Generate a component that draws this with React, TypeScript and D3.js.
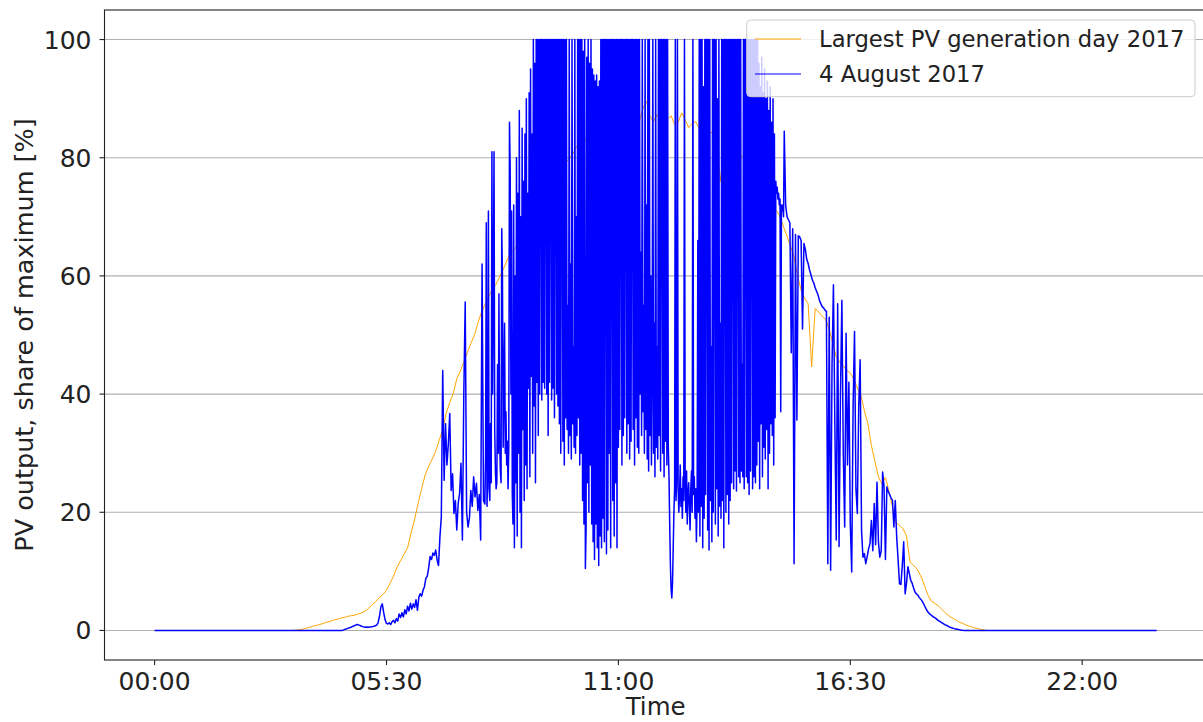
import React from "react";
import * as d3 from "d3";

// ---- data (minutes after midnight, values in % of maximum) ----
const DAY_END = 1426;
const xTickMinutes = [0, 330, 660, 990, 1320];
const xTickLabels = ["00:00", "05:30", "11:00", "16:30", "22:00"];
const yTicks = [0, 20, 40, 60, 80, 100];
const seriesNames = ["Largest PV generation day 2017", "4 August 2017"];

// Largest PV generation day: from minute 195, every 5 minutes
const ORANGE_START = 195;
const ORANGE_STEP = 5;
const orangeValues = [
  0, 0.05, 0.1, 0.2, 0.35, 0.5, 0.7, 0.85, 1.0, 1.2,
  1.4, 1.55, 1.75, 1.9, 2.1, 2.2, 2.4, 2.5, 2.6, 2.8,
  3.0, 3.3, 3.8, 4.4, 4.9, 5.6, 6.1, 6.8, 8.0, 9.2,
  10.7, 11.8, 12.9, 14.0, 16.5, 18.8, 21.5, 24.0, 26.3, 27.8,
  29.0, 30.3, 32.2, 34.0, 36.8, 38.6, 40.1, 42.6, 43.9, 45.4,
  47.0, 48.6, 49.9, 52.0, 53.8, 55.1, 56.3, 57.6, 58.4, 59.6,
  60.8, 62.2, 63.6, 64.2, 65.0, 65.9, 66.8, 67.9, 68.8, 69.6,
  70.2, 71.0, 72.0, 72.9, 73.8, 74.6, 76.5, 78.4, 79.2, 79.8,
  80.6, 81.8, 82.6, 82.1, 83.4, 83.0, 84.0, 84.5, 83.7, 85.0,
  86.5, 87.4, 84.6, 85.6, 86.0, 85.4, 84.7, 86.3, 87.5, 86.2,
  88.4, 89.6, 87.0, 86.1, 87.3, 86.4, 88.2, 86.5, 87.1, 85.6,
  86.0, 87.6, 86.4, 85.1, 85.8, 86.1, 84.9, 85.5, 85.0, 84.3,
  84.2, 82.9, 76.0, 81.6, 81.9, 81.0, 80.7, 80.9, 80.3, 79.6,
  78.8, 78.0, 77.3, 75.4, 74.3, 73.2, 72.4, 71.7, 71.0, 70.1,
  68.3, 66.7, 65.0, 63.2, 60.0, 57.6, 56.2, 55.3, 44.6, 54.5,
  53.9, 53.2, 52.6, 51.0, 48.6, 46.3, 45.4, 44.8, 44.0, 43.6,
  42.5, 41.0, 39.8, 37.2, 35.0, 31.3, 28.6, 26.0, 24.8, 25.9,
  23.6, 20.9, 18.2, 17.8, 17.2, 16.0, 11.6, 11.0, 10.4, 9.3,
  7.8, 6.1, 5.0, 4.6, 4.2, 3.6, 3.0, 2.5, 2.1, 1.8,
  1.4, 1.2, 0.9, 0.7, 0.5, 0.35, 0.2, 0.1, 0,
];

// 4 August 2017, morning: from minute 264, every 2 minutes
const MORNING_START = 264;
const MORNING_STEP = 2;
const blueMorning = [
  0, 0, 0.05, 0.15, 0.25, 0.3, 0.4, 0.5, 0.55, 0.7,
  0.8, 0.9, 1.0, 0.95, 0.85, 0.75, 0.65, 0.6, 0.55, 0.6,
  0.55, 0.6, 0.6, 0.65, 0.7, 0.8, 0.9, 1.3, 2.4, 4.0,
  4.5, 3.0, 1.8, 1.2, 1.1, 1.3, 1.0, 1.5, 1.7, 1.3,
  2.0, 1.6, 2.8, 2.2, 3.0, 2.3, 3.5, 2.8, 4.1, 3.3,
  4.6, 3.6, 4.5, 3.9, 5.2, 3.4, 5.6, 6.2, 5.8, 6.8,
  7.4, 8.8, 9.2, 10.6, 12.5, 12.0, 13.1, 12.7, 13.6, 11.9,
  11.0, 15.8, 19.2, 44.0, 25.4, 35.0, 28.0, 31.6, 36.7, 23.7,
  26.5, 19.8, 22.0, 17.0, 21.5, 23.2, 28.3, 15.3, 40.1, 55.6,
  20.0, 17.5, 19.0, 23.7, 21.0, 26.0, 22.6, 24.9, 20.3, 23.0,
  15.3, 62.0, 22.0,
];

// 4 August 2017, midday: from minute 470, every minute
const MIDDAY_START = 470;
const MIDDAY_STEP = 1;
const blueMidday = [
  21.4, 30, 69, 21, 26, 71, 24, 22, 35, 25,
  81, 40, 56, 81, 34, 27, 24, 25, 45, 30,
  57, 32, 27, 25, 68, 60, 31, 40, 52, 30,
  37, 28, 32, 24, 31, 86, 78, 40, 71, 23,
  18, 72, 14, 60, 25, 80, 16, 74, 30, 88,
  20, 70, 14, 85, 34, 76, 22, 84, 28, 90,
  24, 74, 41, 91, 26, 95, 43, 84, 30, 100,
  38, 96, 25, 100, 42, 100, 33, 100, 40, 100,
  100, 39, 100, 42, 100, 41, 100, 100, 40, 100,
  33, 100, 42, 100, 100, 39, 100, 41, 100, 36,
  100, 100, 40, 100, 38, 100, 35, 100, 30, 100,
  100, 32, 100, 28, 100, 36, 100, 34, 55, 30,
  100, 33, 62, 29, 100, 35, 48, 31, 100, 30,
  70, 33, 100, 36, 100, 28, 100, 30, 100, 22,
  98, 18, 100, 10.5, 17, 97, 25, 100, 20, 96,
  28, 100, 18, 95, 15, 94, 12, 93, 18, 94,
  14, 92, 11, 93, 16, 100, 14, 100, 19, 100,
  15, 100, 100, 13, 100, 17, 100, 30, 100, 14,
  100, 100, 22, 100, 16, 100, 25, 100, 14, 100,
  31, 100, 34, 100, 100, 28, 100, 33, 100, 36,
  100, 100, 30, 100, 35, 100, 29, 100, 32, 100,
  100, 34, 100, 28, 100, 36, 100, 31, 100, 30,
  100, 40, 64, 33, 100, 37, 55, 30, 100, 34,
  72, 29, 100, 27, 100, 33, 60, 28, 45, 100,
  30, 52, 26, 100, 31, 48, 29, 100, 33, 100,
  27, 100, 100, 30, 100, 26, 100, 32, 100, 28,
  100, 31, 26, 18, 11, 7, 5.5, 8, 14, 20,
  24, 100, 22, 26, 100, 24, 20, 23, 28, 21,
  24, 19, 26, 22, 100, 25, 20, 27, 18, 23,
  25, 21, 17, 24, 27, 20, 100, 23, 26, 19,
  24, 15, 22, 66, 20, 100, 16, 100, 21, 100,
  14, 92, 19, 100, 23, 100, 100, 17, 100, 13.6,
  100, 22, 48, 15, 100, 20, 100, 100, 18, 100,
  24, 90, 16, 100, 21, 52, 19, 100, 22, 100,
  14, 100, 100, 20, 100, 23, 100, 18, 100, 22,
  100, 25, 100, 100, 24, 100, 27, 100, 23.6, 100,
  100, 26, 100, 25, 100, 27, 45, 26, 100, 24,
  100, 100, 26, 100, 25, 100, 23, 100, 27, 100,
  100, 24, 100, 26, 100, 25, 100, 28, 100, 32,
  96, 24, 92, 35, 97, 26, 91, 31, 95, 29,
  90, 34, 93, 24, 88, 30, 92, 35, 86, 33,
  90, 28, 84, 36, 76, 74, 75, 73, 74, 72,
  73, 37, 72, 71, 72, 70,
];

// 4 August 2017, evening: from minute 896, every 2 minutes
const EVENING_START = 896;
const EVENING_STEP = 2;
const blueEvening = [
  84.5, 72, 70, 69.5, 69, 47, 68, 11.3, 67, 35.6,
  66.8, 66.6, 66, 51, 65.5, 64.5, 62.8, 62.1, 61, 60.2,
  59.3, 58.8, 58, 57.4, 56.8, 55.9, 55.3, 54.8, 54.6, 54.2,
  54, 11.3, 53, 10.2, 45, 58.5, 35, 15.3, 55.3, 14.2,
  40, 55.9, 30, 17.5, 50.3, 28, 42, 18, 9.9, 38,
  50.6, 24, 19.8, 38, 45.8, 16.9, 12.4, 13, 11.3, 12.5,
  13.8, 14.7, 18.6, 13.5, 21.5, 14.5, 25.1, 15, 12.4, 13.5,
  26.8, 24.3, 12, 24.3, 23.5, 23, 22.4, 22, 17.5, 22,
  15.8, 12, 7.9, 7.8, 11, 15, 6.2, 8, 10.8, 9.6,
  8.5, 8, 7.2, 6.5, 6.2, 6, 5.6, 5.3, 5, 4.6,
  4.1, 3.6, 3.2, 2.9, 2.7, 2.5, 2.3, 2.2, 2.0, 1.8,
  1.6, 1.5, 1.3, 1.2, 1.0, 0.9, 0.8, 0.65, 0.55, 0.45,
  0.4, 0.3, 0.25, 0.2, 0.15, 0.1, 0.05, 0.02, 0,
];

type Pt = { m: number; v: number };

function segment(values: number[], start: number, step: number): Pt[] {
  return values.map((v, i) => ({ m: start + i * step, v }));
}

const orangeSeries: Pt[] = [
  { m: 0, v: 0 },
  ...segment(orangeValues, ORANGE_START, ORANGE_STEP),
  { m: DAY_END, v: 0 },
];

const blueSeries: Pt[] = [
  { m: 0, v: 0 },
  ...segment(blueMorning, MORNING_START, MORNING_STEP),
  ...segment(blueMidday, MIDDAY_START, MIDDAY_STEP),
  ...segment(blueEvening, EVENING_START, EVENING_STEP),
  { m: DAY_END, v: 0 },
];

const W = 1203;
const H = 722;
const FONT = "'DejaVu Sans', Verdana, sans-serif";

export default function App() {
  const x = d3
    .scaleLinear()
    .domain([-0.05 * DAY_END, 1.05 * DAY_END])
    .range([104.5, 1206.8]);
  const y = d3.scaleLinear().domain([-5, 105]).range([660, 10]);

  const line = d3
    .line<Pt>()
    .x((d) => x(d.m))
    .y((d) => y(d.v));

  const [x0, x1] = x.range();
  const [yb, yt] = y.range();

  return (
    <svg
      width={W}
      height={H}
      style={{ position: "absolute", left: 0, top: 0, background: "#fff" }}
      fontFamily={FONT}
    >
      <rect x={0} y={0} width={W} height={H} fill="#fff" />
      {/* grid */}
      {yTicks.map((t) => (
        <line
          key={"g" + t}
          x1={x0}
          x2={x1}
          y1={y(t)}
          y2={y(t)}
          stroke="#b0b0b0"
          strokeWidth={1.1}
        />
      ))}
      {/* series */}
      <path d={line(orangeSeries) || ""} fill="none" stroke="orange" strokeWidth={1} strokeLinejoin="round" />
      <path d={line(blueSeries) || ""} fill="none" stroke="blue" strokeWidth={1.5} strokeLinejoin="round" />

      {/* frame */}
      <rect x={x0} y={yt} width={x1 - x0} height={yb - yt} fill="none" stroke="#222" strokeWidth={1.1} />

      {/* y ticks */}
      {yTicks.map((t) => (
        <g key={"y" + t}>
          <line x1={x0 - 5} x2={x0} y1={y(t)} y2={y(t)} stroke="#222" strokeWidth={1.1} />
          <text x={x0 - 13} y={y(t)} dy="0.36em" textAnchor="end" fontSize={25} fill="#222">
            {t}
          </text>
        </g>
      ))}
      {/* x ticks */}
      {xTickMinutes.map((t, i) => (
        <g key={"x" + t}>
          <line x1={x(t)} x2={x(t)} y1={yb} y2={yb + 5} stroke="#222" strokeWidth={1.1} />
          <text x={x(t)} y={689.5} textAnchor="middle" fontSize={25} fill="#222">
            {xTickLabels[i]}
          </text>
        </g>
      ))}
      {/* axis labels */}
      <text x={(x0 + x1) / 2} y={715} textAnchor="middle" fontSize={24.5} fill="#222">
        Time
      </text>
      <text
        transform={`translate(33,${(yb + yt) / 2}) rotate(-90)`}
        textAnchor="middle"
        fontSize={25.5}
        fill="#222"
      >
        PV output, share of maximum [%]
      </text>

      {/* legend */}
      <g>
        <rect x={746.7} y={20} width={448.3} height={76.7} rx={4} fill="#fff" fillOpacity={0.8} stroke="#cccccc" strokeWidth={1} />
        <line x1={755} x2={801} y1={39} y2={39} stroke="orange" strokeWidth={1} />
        <text x={819} y={46.8} fontSize={22.7} fill="#222">
          {seriesNames[0]}
        </text>
        <line x1={755} x2={801} y1={74} y2={74} stroke="blue" strokeWidth={1} />
        <text x={819} y={81.8} fontSize={22.7} fill="#222">
          {seriesNames[1]}
        </text>
      </g>
    </svg>
  );
}
